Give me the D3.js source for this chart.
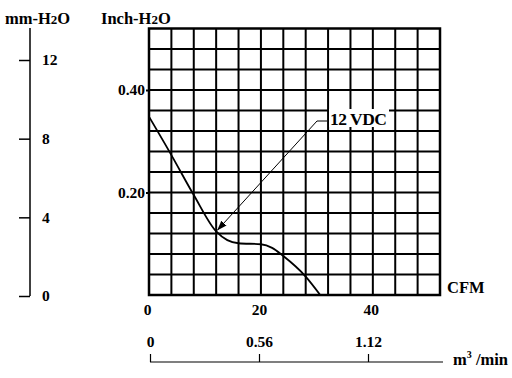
<!DOCTYPE html>
<html><head><meta charset="utf-8">
<script src="https://cdn.jsdelivr.net/npm/d3@7"></script>
<style>
body{margin:0;background:#fff;}
svg{display:block;}
text{font-family:"Liberation Serif","Times New Roman",serif;font-weight:bold;fill:#000;}
</style></head>
<body><svg id="c" width="512" height="378"></svg>
<script>
// Data
const cfm = [0, 4, 8, 12, 14, 16, 20, 22, 24, 28, 30.6];
const pressureInch = [0.348, 0.273, 0.195, 0.124, 0.107, 0.101, 0.099, 0.092, 0.076, 0.036, 0];
const cfmTicks = [0, 20, 40];
const inchTicks = [0.20, 0.40];
const mmTicks = [0, 4, 8, 12];
const m3Ticks = [0, 0.56, 1.12];
const m3Labels = ["0", "0.56", "1.12"];
const seriesLabel = "12 VDC";
const annotationAt = 12; // CFM where the arrow points

const svg = d3.select("#c");
const x = d3.scaleLinear().domain([0, 52]).range([149, 440]);
const y = d3.scaleLinear().domain([0, 0.52]).range([295, 28.5]);
const ymm = d3.scaleLinear().domain([0, 12]).range([296, 60]);
const xm3 = d3.scaleLinear().domain([0, 1.12]).range([150, 368]);

// grid
const grid = svg.append("g").attr("stroke", "#000").attr("stroke-width", 2);
d3.range(0, 52.001, 4).forEach(v => {
  grid.append("line").attr("x1", x(v)).attr("x2", x(v)).attr("y1", y(0.52)).attr("y2", y(0));
});
d3.range(0, 13).forEach(i => {
  const v = i * 0.04;
  grid.append("line").attr("x1", x(0)).attr("x2", x(52)).attr("y1", y(v)).attr("y2", y(v));
});
svg.append("rect").attr("x", x(0)).attr("y", y(0.52)).attr("width", x(52) - x(0)).attr("height", y(0) - y(0.52))
  .attr("fill", "none").attr("stroke", "#000").attr("stroke-width", 2.5);

// inch axis
const ia = svg.append("g").attr("transform", `translate(${x(0)},0)`)
  .call(d3.axisLeft(y).tickValues(inchTicks).tickSize(3).tickPadding(1).tickFormat(d3.format(".2f")));
ia.select(".domain").remove();
ia.selectAll("line").attr("stroke", "#000").attr("stroke-width", 2);
ia.selectAll("text").attr("font-size", 15.5).attr("font-family", "Liberation Serif").attr("font-weight", "bold").attr("fill", "#000");

// CFM axis labels
const xa = svg.append("g").attr("transform", `translate(0,${y(0)})`)
  .call(d3.axisBottom(x).tickValues(cfmTicks).tickSize(0).tickPadding(9));
xa.select(".domain").remove();
xa.selectAll("text").attr("font-size", 15.5).attr("font-family", "Liberation Serif").attr("font-weight", "bold").attr("fill", "#000")
  .attr("dx", -2);

// mm axis
svg.append("line").attr("x1", 30).attr("x2", 30).attr("y1", 28).attr("y2", ymm(0)).attr("stroke", "#000").attr("stroke-width", 1.5);
const ma = svg.append("g").attr("transform", "translate(30,0)")
  .call(d3.axisRight(ymm).tickValues(mmTicks).tickSize(-11).tickPadding(12));
ma.select(".domain").remove();
ma.selectAll("line").attr("stroke", "#000").attr("stroke-width", 1.5);
ma.selectAll("text").attr("font-size", 15.5).attr("font-family", "Liberation Serif").attr("font-weight", "bold").attr("fill", "#000");

// m3/min axis
svg.append("line").attr("x1", xm3(0)).attr("x2", 443).attr("y1", 362).attr("y2", 362).attr("stroke", "#000").attr("stroke-width", 1.2);
const m3a = svg.append("g").attr("transform", "translate(0,362)")
  .call(d3.axisTop(xm3).tickValues(m3Ticks).tickSize(8).tickPadding(7).tickFormat((d, i) => m3Labels[i]));
m3a.select(".domain").remove();
m3a.selectAll("line").attr("stroke", "#000").attr("stroke-width", 1.2);
m3a.selectAll("text").attr("font-size", 15.5).attr("font-family", "Liberation Serif").attr("font-weight", "bold").attr("fill", "#000");

// titles
const t1 = svg.append("text").attr("x", 5).attr("y", 24).attr("font-size", 16.5);
t1.append("tspan").text("mm-H");
t1.append("tspan").attr("font-size", 13).text("2");
t1.append("tspan").text("O");
const t2 = svg.append("text").attr("x", 101).attr("y", 24).attr("font-size", 16.5);
t2.append("tspan").text("Inch-H");
t2.append("tspan").attr("font-size", 13).text("2");
t2.append("tspan").text("O");
svg.append("text").attr("x", 447).attr("y", 293).attr("font-size", 16.5).text("CFM");
const t3 = svg.append("text").attr("x", 453).attr("y", 365).attr("font-size", 16.5);
t3.append("tspan").text("m");
t3.append("tspan").attr("font-size", 10).attr("dy", -7).text("3");
t3.append("tspan").attr("dy", 7).text(" /min");

// curve
const line = d3.line().x((d, i) => x(cfm[i])).y(d => y(d)).curve(d3.curveMonotoneX);
svg.append("path").datum(pressureInch).attr("d", line).attr("fill", "none").attr("stroke", "#000").attr("stroke-width", 1.8);

// annotation
svg.append("defs").append("marker").attr("id", "ah").attr("viewBox", "0 0 10 10").attr("refX", 10).attr("refY", 5)
  .attr("markerWidth", 10).attr("markerHeight", 10).attr("markerUnits", "userSpaceOnUse").attr("orient", "auto")
  .append("path").attr("d", "M0,1.5 L10,5 L0,8.5 Z").attr("fill", "#000");
const ai = cfm.indexOf(annotationAt);
const tipX = x(annotationAt) + 1, tipY = y(pressureInch[ai]) - 1;
svg.append("path").attr("d", `M327,121 L317,121 L${tipX},${tipY}`).attr("fill", "none").attr("stroke", "#000")
  .attr("stroke-width", 1).attr("marker-end", "url(#ah)");
svg.append("rect").attr("x", 329).attr("y", 109).attr("width", 60).attr("height", 18).attr("fill", "#fff");
svg.append("text").attr("x", 330).attr("y", 125).attr("font-size", 17.5).attr("letter-spacing", -0.5).text(seriesLabel);
</script></body></html>
